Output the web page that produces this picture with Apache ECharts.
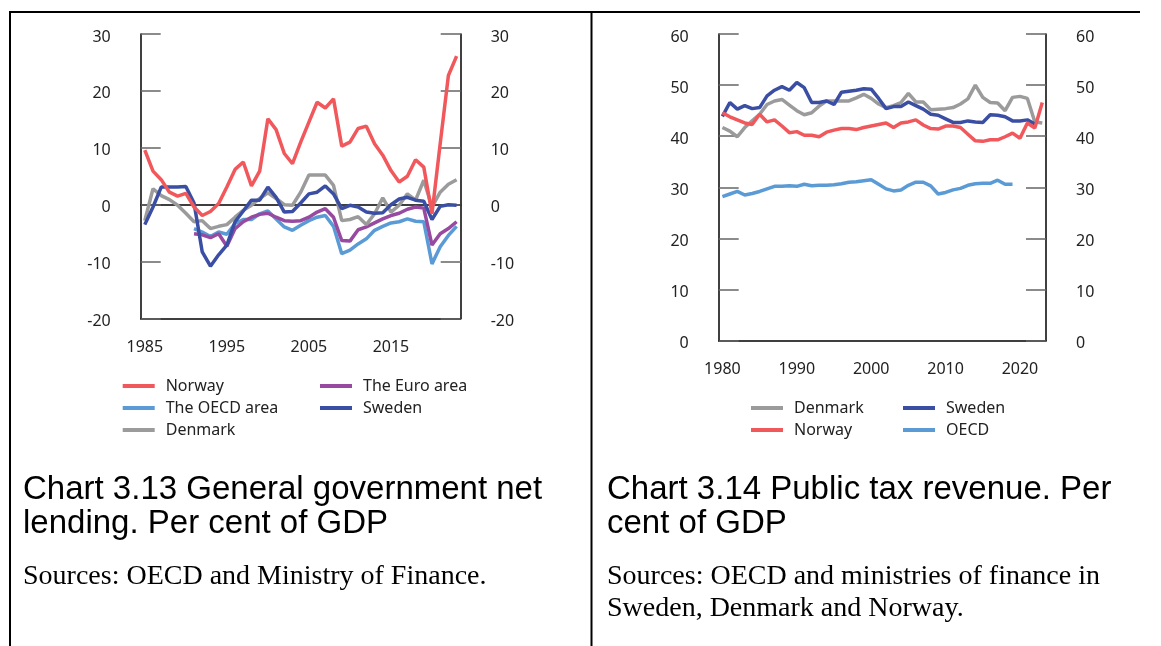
<!DOCTYPE html>
<html>
<head>
<meta charset="utf-8">
<script src="https://cdn.jsdelivr.net/npm/echarts@6/dist/echarts.min.js"></script>
<style>
  html, body { margin: 0; padding: 0; background: #fff; }
  #chart { width: 1161px; height: 646px; }
</style>
</head>
<body>
<div id="chart"></div>
<script>
// Chart 3.13: general government net lending, 1985–2023
const lendingYears = ['1985','1986','1987','1988','1989','1990','1991','1992','1993','1994',
  '1995','1996','1997','1998','1999','2000','2001','2002','2003','2004',
  '2005','2006','2007','2008','2009','2010','2011','2012','2013','2014',
  '2015','2016','2017','2018','2019','2020','2021','2022','2023'];
const lendingNorway = [9.6, 5.9, 4.4, 2.2, 1.5, 2.0, -0.4, -1.9, -1.2, 0.2,
  3.1, 6.2, 7.5, 3.3, 5.9, 15.1, 13.2, 9.0, 7.2, 11.0,
  14.5, 18.0, 17.0, 18.6, 10.3, 11.0, 13.4, 13.8, 10.7, 8.7,
  6.0, 4.0, 5.0, 7.9, 6.6, -1.6, 10.7, 22.7, 26.1];
const lendingSweden = [-3.5, -0.4, 3.1, 3.1, 3.1, 3.2, 0.3, -8.3, -10.8, -8.8,
  -7.1, -3.0, -1.1, 0.8, 0.8, 3.1, 1.3, -1.3, -1.2, 0.3,
  1.9, 2.2, 3.3, 1.9, -0.7, -0.1, -0.4, -1.3, -1.5, -1.4,
  0.0, 1.0, 1.3, 0.8, 0.6, -2.6, -0.3, 0.0, -0.1];
const lendingDenmark = [-2.8, 2.8, 1.6, 0.9, -0.1, -1.5, -3.0, -2.8, -4.2, -3.8,
  -3.5, -2.2, -1.0, -0.1, 1.1, 2.1, 1.1, 0.0, -0.1, 2.2,
  5.2, 5.2, 5.2, 3.4, -2.8, -2.6, -2.1, -3.5, -1.6, 1.2,
  -1.3, -0.1, 1.9, 0.8, 4.3, -0.4, 2.2, 3.6, 4.4];
const lendingEuro = [null, null, null, null, null, null, -5.1, -5.3, -5.8, -5.1,
  -7.3, -4.2, -3.0, -2.2, -1.7, -1.5, -2.2, -2.8, -2.9, -2.8,
  -2.2, -1.3, -0.7, -2.2, -6.3, -6.4, -4.4, -3.9, -3.2, -2.5,
  -1.9, -1.5, -0.8, -0.4, -0.6, -7.1, -5.1, -4.2, -3.0];
const lendingOECD = [null, null, null, null, null, null, -4.2, -4.8, -5.6, -4.8,
  -5.2, -3.3, -2.6, -2.6, -1.6, -1.1, -2.5, -3.9, -4.5, -3.6,
  -2.8, -2.2, -1.9, -3.8, -8.6, -8.0, -6.9, -6.0, -4.5, -3.8,
  -3.2, -3.0, -2.5, -2.9, -3.0, -10.4, -7.4, -5.4, -3.8];

// Chart 3.14: public tax revenue, 1980–2023
const taxYears = ['1980','1981','1982','1983','1984','1985','1986','1987','1988','1989',
  '1990','1991','1992','1993','1994','1995','1996','1997','1998','1999',
  '2000','2001','2002','2003','2004','2005','2006','2007','2008','2009',
  '2010','2011','2012','2013','2014','2015','2016','2017','2018','2019',
  '2020','2021','2022','2023'];
const taxDenmark = [41.7, 41.0, 39.9, 41.7, 43.0, 44.3, 46.2, 46.9, 47.2, 46.1,
  45.0, 44.2, 44.6, 45.9, 46.9, 46.9, 46.9, 46.9, 47.5, 48.2,
  47.4, 46.3, 45.6, 46.0, 46.6, 48.4, 46.7, 46.7, 45.2, 45.3,
  45.4, 45.6, 46.3, 47.3, 50.0, 47.6, 46.6, 46.5, 45.0, 47.6,
  47.8, 47.4, 42.8, 42.6];
const taxSweden = [43.9, 46.6, 45.3, 46.0, 45.4, 45.6, 47.9, 49.0, 49.7, 49.0,
  50.5, 49.5, 46.6, 46.6, 46.9, 46.2, 48.6, 48.8, 49.0, 49.3,
  49.2, 47.4, 45.4, 45.8, 45.8, 46.7, 46.0, 45.3, 44.3, 44.1,
  43.4, 42.7, 42.7, 43.0, 42.8, 42.7, 44.2, 44.1, 43.8, 43.0,
  43.0, 43.2, 42.4, null];
const taxNorway = [44.6, 43.8, 43.2, 42.6, 42.3, 44.3, 42.8, 43.2, 42.0, 40.7,
  40.9, 40.2, 40.2, 39.9, 40.8, 41.2, 41.5, 41.5, 41.3, 41.7,
  42.0, 42.3, 42.6, 41.7, 42.6, 42.8, 43.2, 42.2, 41.5, 41.4,
  42.0, 42.0, 41.7, 40.4, 39.1, 39.0, 39.3, 39.3, 39.9, 40.6,
  39.6, 42.6, 41.6, 46.6];
const taxOECD = [28.2, 28.7, 29.2, 28.5, 28.8, 29.2, 29.7, 30.2, 30.2, 30.3,
  30.2, 30.6, 30.3, 30.4, 30.4, 30.5, 30.7, 31.0, 31.1, 31.3,
  31.5, 30.6, 29.7, 29.3, 29.5, 30.4, 31.0, 31.0, 30.3, 28.7,
  29.0, 29.5, 29.8, 30.4, 30.7, 30.8, 30.8, 31.4, 30.6, 30.6,
  null, null, null, null];

const COLORS = {
  norway: '#f0585c',
  oecd: '#5b9bd5',
  denmark: '#9b9b9b',
  sweden: '#3a4ea3',
  euro: '#974aa0'
};

const FONT = 'Noto Sans';
const labelStyle = { fontFamily: FONT, fontSize: 16, color: '#222', lineHeight: 16 };
const tickStyle = { show: true, inside: true, length: 20, lineStyle: { color: '#666', width: 1.5 } };
const blackLine = { color: '#000', width: 1.5 };

function valueAxis(gridIndex, position, min, max) {
  return {
    type: 'value', gridIndex, position, min, max, interval: 10,
    axisLine: { show: true, onZero: false, lineStyle: blackLine },
    axisTick: tickStyle,
    // labels sit a few pixels below their tick
    axisLabel: Object.assign({}, labelStyle, { margin: 30, verticalAlign: 'top', lineHeight: 6 }),
    splitLine: { show: false }
  };
}

function lineSeries(name, data, color, xi, yi) {
  return {
    name, type: 'line', data, xAxisIndex: xi, yAxisIndex: yi,
    symbol: 'none', showSymbol: false, connectNulls: false,
    lineStyle: { color, width: 3.5 }, itemStyle: { color },
    emphasis: { disabled: true }, animation: false
  };
}

function legendColumn(left, top, names) {
  return {
    left, top, orient: 'vertical', data: names, padding: 0,
    icon: 'rect', itemWidth: 32, itemHeight: 4, itemGap: 0,
    selectedMode: false,
    textStyle: { fontFamily: FONT, fontSize: 16, color: '#222', lineHeight: 22, padding: [0, 0, 0, 6] }
  };
}

function textEl(x, y, text, font) {
  return {
    type: 'text', x, y,
    style: { text, font, fill: '#000', align: 'left', verticalAlign: 'middle' }
  };
}

function rule(x1, y1, x2, y2, w) {
  return { type: 'line', shape: { x1, y1, x2, y2 }, style: { stroke: '#000', lineWidth: w } };
}

const TITLE_FONT = '33px "Liberation Sans"';
const SOURCE_FONT = '28px "Liberation Serif"';

const chart = echarts.init(document.getElementById('chart'), null, { renderer: 'canvas' });
chart.setOption({
  animation: false,
  backgroundColor: '#fff',
  grid: [
    { left: 140.7, right: 700.3, top: 34, bottom: 327.5 },
    { left: 718.7, right: 115, top: 34, bottom: 305.3 }
  ],
  xAxis: [
    {
      type: 'category', gridIndex: 0, data: lendingYears, boundaryGap: true, position: 'bottom',
      axisLine: { show: true, onZero: false, lineStyle: blackLine },
      axisTick: { show: false },
      axisLabel: Object.assign({ interval: 9, margin: 21 }, labelStyle)
    },
    {
      // zero line across the net lending panel
      type: 'category', gridIndex: 0, data: lendingYears, boundaryGap: true, position: 'top',
      axisLine: { show: true, onZero: true, onZeroAxisIndex: 0, lineStyle: blackLine },
      axisTick: { show: false }, axisLabel: { show: false }
    },
    {
      type: 'category', gridIndex: 1, data: taxYears, boundaryGap: true, position: 'bottom',
      axisLine: { show: true, onZero: false, lineStyle: blackLine },
      axisTick: { show: false },
      axisLabel: Object.assign({ interval: 9, margin: 21 }, labelStyle)
    }
  ],
  yAxis: [
    valueAxis(0, 'left', -20, 30),
    valueAxis(0, 'right', -20, 30),
    valueAxis(1, 'left', 0, 60),
    valueAxis(1, 'right', 0, 60)
  ],
  legend: [
    legendColumn(122.7, 375, ['Norway', 'The OECD area', 'Denmark']),
    legendColumn(320, 375, ['The Euro area', 'Sweden']),
    legendColumn(751, 397, ['Denmark ', 'Norway ']),
    legendColumn(903, 397, ['Sweden ', 'OECD'])
  ],
  series: [
    lineSeries('The OECD area', lendingOECD, COLORS.oecd, 0, 0),
    lineSeries('The Euro area', lendingEuro, COLORS.euro, 0, 0),
    lineSeries('Denmark', lendingDenmark, COLORS.denmark, 0, 0),
    lineSeries('Sweden', lendingSweden, COLORS.sweden, 0, 0),
    lineSeries('Norway', lendingNorway, COLORS.norway, 0, 0),
    lineSeries('OECD', taxOECD, COLORS.oecd, 2, 2),
    lineSeries('Denmark ', taxDenmark, COLORS.denmark, 2, 2),
    lineSeries('Sweden ', taxSweden, COLORS.sweden, 2, 2),
    lineSeries('Norway ', taxNorway, COLORS.norway, 2, 2)
  ],
  graphic: [
    rule(9, 12, 1140, 12, 2),
    rule(10, 11, 10, 646, 2),
    rule(591.5, 11, 591.5, 646, 2),
    textEl(23, 490, 'Chart 3.13 General government net', TITLE_FONT),
    textEl(23, 524, 'lending. Per cent of GDP', TITLE_FONT),
    textEl(23, 577, 'Sources: OECD and Ministry of Finance.', SOURCE_FONT),
    textEl(607, 490, 'Chart 3.14 Public tax revenue. Per', TITLE_FONT),
    textEl(607, 524, 'cent of GDP', TITLE_FONT),
    textEl(607, 577, 'Sources: OECD and ministries of finance in', SOURCE_FONT),
    textEl(607, 609, 'Sweden, Denmark and Norway.', SOURCE_FONT)
  ]
});
</script>
</body>
</html>
